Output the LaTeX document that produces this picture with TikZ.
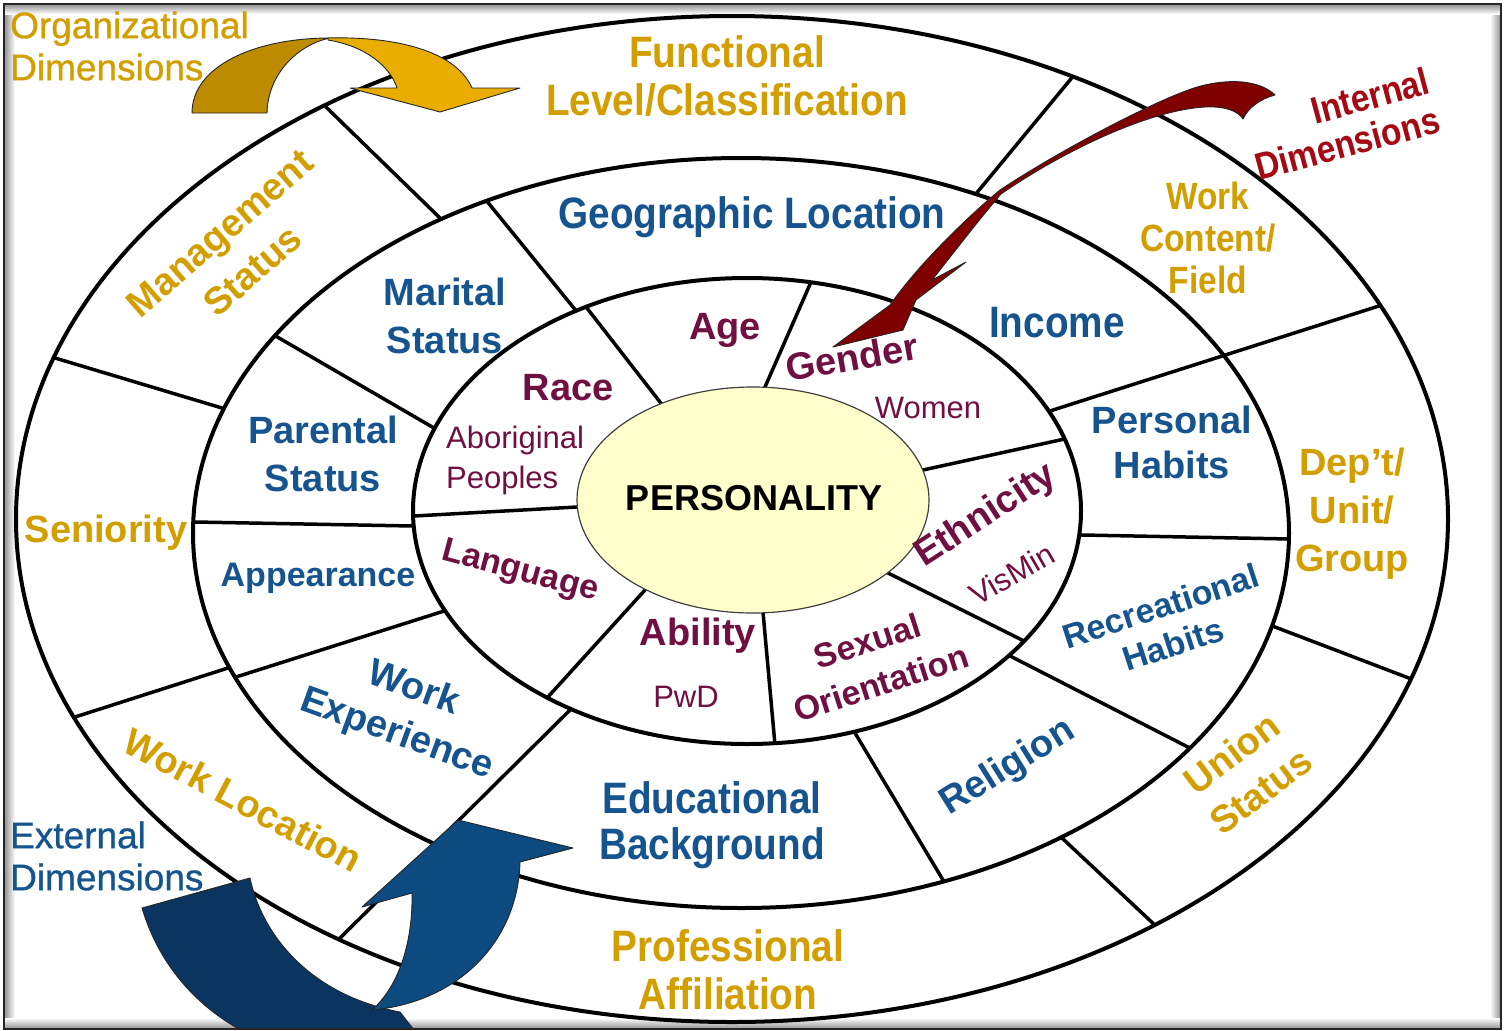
\documentclass[tikz,border=0pt]{standalone}
\usepackage{fontspec}
\setmainfont{Liberation Sans}
\newfontfamily\narrowbold[FakeStretch=0.88]{Liberation Sans Bold}
\newfontfamily\mediumfont[FakeBold=0.8]{Liberation Sans}
\usetikzlibrary{calc}

\definecolor{cgold}{HTML}{D29E00}
\definecolor{cblue}{HTML}{16548F}
\definecolor{cmar}{HTML}{701040}
\definecolor{cint}{HTML}{A50A14}
\definecolor{arrred}{HTML}{800000}
\definecolor{golddark}{HTML}{BD8B00}
\definecolor{goldlight}{HTML}{E9AD00}
\definecolor{bluedark}{HTML}{0A3560}
\definecolor{bluelight}{HTML}{0C4A80}
\definecolor{coreyellow}{HTML}{FFFFCC}

\newcommand\setfs[2]{\fontsize{#1}{#2}\selectfont}
% a spoke between two rings, drawn a little long and trimmed by clipping / filling
\newcommand\divider[2]{\draw[divline] ($(#1)!-0.15!(#2)$) -- ($(#2)!-0.15!(#1)$);}

\begin{document}
\begin{tikzpicture}[x=1pt,y=-1pt,
  ringline/.style={line width=4pt},
  divline/.style={line width=3.5pt},
  lbl/.style={inner sep=0pt, align=center},
  goldbold/.style={lbl, text=cgold, font=\bfseries\setfs{38}{48}},
  goldnarrow/.style={lbl, text=cgold, font=\narrowbold\setfs{44}{48}},
  bluebold/.style={lbl, text=cblue, font=\bfseries\setfs{38}{48}},
  bluenarrow/.style={lbl, text=cblue, font=\narrowbold\setfs{44}{46}},
  marbold/.style={lbl, text=cmar, font=\bfseries\setfs{38}{44}},
  marthin/.style={lbl, text=cmar, font=\setfs{31}{40}},
  arrowshape/.style={draw=black!85, line width=0.9pt, line join=round},
]
\useasboundingbox (0,0) rectangle (1508,1031);
\fill[white] (0,0) rectangle (1508,1031);

% soft inner edge of the frame
\shade[left color=black!40, right color=white] (5,5) rectangle (15,1028);
\shade[right color=black!40, left color=white] (1490,5) rectangle (1500,1028);
\shade[top color=black!40, bottom color=white] (5,5) rectangle (1500,14);
\shade[bottom color=black!40, top color=white] (5,1018) rectangle (1500,1028);

% ring centres
\coordinate (c1) at (732,519);
\coordinate (c2) at (741,533);
\coordinate (c3) at (747,511);
\coordinate (c4) at (753,500);

% outer ring spokes
\fill[white] (c1) ellipse [x radius=716pt, y radius=503pt];
\begin{scope}
  \clip (c1) ellipse [x radius=716pt, y radius=503pt];
  \divider{327,108}{440,218}
  \divider{1070,80}{975,195}
  \divider{1053,410}{1382,305}
  \divider{1275,627}{1414,680}
  \divider{1062,838}{1158,928}
  \divider{567,713}{333,945}
  \divider{228,668}{75,717}
  \divider{55,358}{222,408}
\end{scope}

% middle ring spokes
\fill[white] (c2) ellipse [x radius=548pt, y radius=375pt];
\begin{scope}
  \clip (c2) ellipse [x radius=548pt, y radius=375pt];
  \divider{279,338}{434,428}
  \divider{490,205}{573,307}
  \divider{1053,410}{1382,305}
  \divider{1082,535}{1290,539}
  \divider{1014,658}{1184,745}
  \divider{858,738}{943,880}
  \divider{567,713}{333,945}
  \divider{441,612}{236,677}
  \divider{195,522}{413,526}
\end{scope}

% inner ring spokes
\fill[white] (c3) ellipse [x radius=334pt, y radius=233pt];
\begin{scope}
  \clip (c3) ellipse [x radius=334pt, y radius=233pt];
  \divider{414,516}{577,507}
  \divider{590,312}{660,402}
  \divider{811,282}{765,387}
  \divider{1060,440}{923,470}
  \divider{888,573}{1026,642}
  \divider{763,612}{775,745}
  \divider{645,590}{547,698}
\end{scope}

% core
\filldraw[fill=coreyellow, draw=black!75, line width=1.2pt] (c4) ellipse [x radius=176pt, y radius=113pt];

% ring outlines
\draw[ringline] (c1) ellipse [x radius=716pt, y radius=503pt];
\draw[ringline] (c2) ellipse [x radius=548pt, y radius=375pt];
\draw[ringline] (c3) ellipse [x radius=334pt, y radius=233pt];

% organizational dimensions
\node[lbl, text=cgold, font=\mediumfont\setfs{37}{42}, align=left, anchor=west] (orgdim) at (10,46) {Organizational\\Dimensions};
\node[goldnarrow] (func) at (727,76) {Functional\\Level/Classification};
\node[goldbold, rotate=41, font=\bfseries\setfs{38}{50}] (mgmt) at (236,252) {Management\\Status};
\node[goldbold] (senior) at (106,533) {Seniority};
\node[goldbold, rotate=-28] (wloc) at (243,800) {Work Location};
\node[goldnarrow] (prof) at (728,970) {Professional\\Affiliation};
\node[goldbold, rotate=37] (union) at (1246,772) {Union\\Status};
\node[goldbold] (dept) at (1352,514) {Dep’t/\\Unit/\\Group};
\node[goldnarrow, font=\narrowbold\setfs{38}{42}] (wcont) at (1208,238) {Work\\Content/\\Field};

% external dimensions
\node[lbl, text=cblue, font=\mediumfont\setfs{37}{42}, align=left, anchor=west] (extdim) at (10,856) {External\\Dimensions};
\node[bluenarrow] (geo) at (752,217) {Geographic Location};
\node[bluebold] (marital) at (445,316) {Marital\\Status};
\node[bluebold] (parent) at (323,454) {Parental\\Status};
\node[bluebold, font=\bfseries\setfs{34}{40}] (appear) at (318,578) {Appearance};
\node[bluebold, rotate=-20] (wexp) at (405,712) {Work\\Experience};
\node[bluenarrow] (edu) at (712,825) {Educational\\Background};
\node[bluebold, rotate=32] (relig) at (1008,768) {Religion};
\node[bluebold, rotate=18, font=\bfseries\setfs{34}{40}] (recr) at (1167,625) {Recreational\\Habits};
\node[bluebold, font=\bfseries\setfs{38}{45}] (pers) at (1172,442) {Personal\\Habits};
\node[bluenarrow] (income) at (1057,323) {Income};

% internal dimensions
\node[lbl, text=cint, font=\narrowbold\setfs{38}{40}, align=right, rotate=15] (intdim) at (1342,124) {Internal\\Dimensions};
\node[marbold] (race) at (568,388) {Race};
\node[marthin, align=left, anchor=west] (abor) at (446,460) {Aboriginal\\Peoples};
\node[marbold] (age) at (725,330) {Age};
\node[marbold, rotate=10] (gender) at (852,357) {Gender};
\node[marthin] (women) at (928,408) {Women};
\node[marbold, rotate=33] (ethn) at (986,516) {Ethnicity};
\node[marthin, rotate=30] (vismin) at (1012,574) {VisMin};
\node[marbold, rotate=18, font=\bfseries\setfs{34}{44}] (sexor) at (874,662) {Sexual\\Orientation};
\node[marbold] (ability) at (698,636) {Ability};
\node[marthin] (pwd) at (686,697) {PwD};
\node[marbold, rotate=-15, font=\bfseries\setfs{34}{40}] (lang) at (520,572) {Language};
\node[lbl, font=\bfseries\setfs{36}{40}] (core) at (754,498) {PERSONALITY};

% curved ribbon arrows
\begin{scope}
  \clip (5,5) rectangle (1500,1027);
  % organizational arrow
  \filldraw[arrowshape, fill=golddark] (192,113) .. controls (192,66) and (255,38) .. (330,38)
      .. controls (300,44) and (268,72) .. (267,113) -- cycle;
  \filldraw[arrowshape, fill=goldlight] (328,38) .. controls (405,36) and (458,55) .. (472,88)
      -- (520,88) -- (440,112) -- (350,88) -- (397,88)
      .. controls (390,66) and (365,46) .. (328,40) -- cycle;
  % internal arrow
  \filldraw[arrowshape, fill=arrred] (1275,95) .. controls (1262,82) and (1235,78) .. (1205,85)
      .. controls (1170,92) and (1060,150) .. (1000,190)
      .. controls (972,213) and (920,262) .. (890,305)
      -- (833,347) -- (903,330) -- (916,300) -- (966,262) -- (932,280)
      .. controls (952,255) and (977,222) .. (1001,194)
      .. controls (1065,150) and (1150,110) .. (1205,107)
      .. controls (1225,106) and (1238,111) .. (1243,119)
      .. controls (1248,108) and (1260,99) .. (1275,95) -- cycle;
  % external arrow
  \filldraw[arrowshape, fill=bluedark] (142,908) -- (250,878)
      .. controls (262,935) and (310,995) .. (400,1012) -- (418,1035) -- (250,1035)
      .. controls (200,1010) and (160,968) .. (142,908) -- cycle;
  \filldraw[arrowshape, fill=bluelight] (372,1010) .. controls (400,985) and (413,940) .. (412,893)
      -- (362,907) -- (458,820) -- (573,848) -- (520,862)
      .. controls (518,940) and (460,1002) .. (372,1010) -- cycle;
\end{scope}

% frame
\draw[line width=2pt, black!85] (4,4) rectangle (1501,1029);
\end{tikzpicture}
\end{document}
